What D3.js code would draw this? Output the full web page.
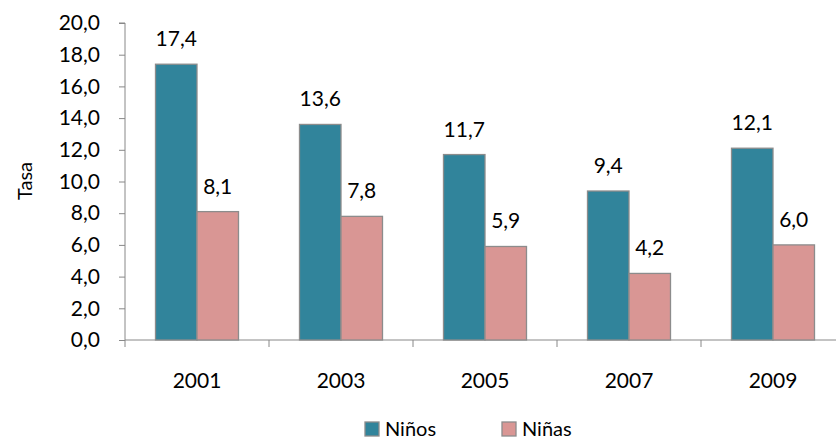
<!DOCTYPE html>
<html>
<head>
<meta charset="utf-8">
<script src="https://cdn.jsdelivr.net/npm/d3@7"></script>
<style>
  body { margin: 0; background: #fff; }
  text { font-family: Lato, "Open Sans", sans-serif; fill: #000; }
</style>
</head>
<body>
<svg id="chart" width="836" height="439"></svg>
<script>
// data
var years = ['2001', '2003', '2005', '2007', '2009'];
var ninos = [17.4, 13.6, 11.7, 9.4, 12.1];
var ninas = [8.1, 7.8, 5.9, 4.2, 6.0];
var seriesNames = ['Niños', 'Niñas'];
var seriesColors = ['#31849B', '#D99694'];
var yTicks = [0, 2, 4, 6, 8, 10, 12, 14, 16, 18, 20];

var svg = d3.select('#chart');

// plot area (plotTop, since "top" is taken by window.top)
var plotLeft = 125, plotTop = 23, plotBottom = 340, band = 144;
var fontSize = '21px';

var x = d3.scaleBand()
  .domain(years)
  .range([plotLeft, plotLeft + band * years.length]);

var y = d3.scaleLinear()
  .domain([0, 20])
  .range([plotBottom, plotTop]);

var fmt = function(v) { return d3.format('.1f')(v).replace('.', ','); };

// y axis
var yAxis = svg.append('g')
  .attr('transform', 'translate(' + plotLeft + ',0)')
  .call(d3.axisLeft(y).tickValues(yTicks).tickSize(6).tickPadding(19).tickFormat(fmt));
yAxis.select('.domain').attr('stroke', '#888').attr('d', 'M-6,' + plotTop + 'H0V' + plotBottom);
yAxis.selectAll('line').attr('stroke', '#888');
yAxis.selectAll('text').style('font-size', fontSize).attr('fill', '#000');

// x axis
var xAxis = svg.append('g')
  .attr('transform', 'translate(0,' + plotBottom + ')')
  .call(d3.axisBottom(x).tickSize(0).tickPadding(33));
xAxis.select('.domain').attr('stroke', '#888').attr('d', 'M' + plotLeft + ',0H' + (plotLeft + band * years.length));
xAxis.selectAll('text').style('font-size', fontSize).attr('fill', '#000');
// tick marks between categories
xAxis.selectAll('line.sep')
  .data(d3.range(years.length + 1))
  .enter().append('line')
  .attr('class', 'sep')
  .attr('x1', function(i) { return plotLeft + i * band; })
  .attr('x2', function(i) { return plotLeft + i * band; })
  .attr('y1', 0).attr('y2', 7)
  .attr('stroke', '#888');

// bars
var barW = 41.5;
var groupOffset = (band - 2 * barW) / 2;
var series = [ninos, ninas];

series.forEach(function(vals, s) {
  var g = svg.append('g');
  g.selectAll('rect')
    .data(vals)
    .enter().append('rect')
    .attr('x', function(d, i) { return x(years[i]) + groupOffset + s * barW; })
    .attr('y', function(d) { return y(d); })
    .attr('width', barW)
    .attr('height', function(d) { return plotBottom - y(d); })
    .attr('fill', seriesColors[s])
    .attr('stroke', '#8c8c8c')
    .attr('stroke-width', 1.3);

  // value labels
  g.selectAll('text')
    .data(vals)
    .enter().append('text')
    .attr('x', function(d, i) { return x(years[i]) + groupOffset + s * barW + barW / 2; })
    .attr('y', function(d) { return y(d) - 18; })
    .attr('text-anchor', 'middle')
    .style('font-size', fontSize)
    .text(fmt);
});

// y axis title
svg.append('text')
  .attr('transform', 'translate(32,181) rotate(-90)')
  .attr('text-anchor', 'middle')
  .style('font-size', '20px')
  .text('Tasa');

// legend
var legendX = [365, 502];
var legend = svg.append('g');
seriesNames.forEach(function(name, i) {
  legend.append('rect')
    .attr('x', legendX[i]).attr('y', 422)
    .attr('width', 14).attr('height', 14)
    .attr('fill', seriesColors[i])
    .attr('stroke', '#8c8c8c')
    .attr('stroke-width', 1.3);
  legend.append('text')
    .attr('x', legendX[i] + 20).attr('y', 436)
    .style('font-size', '20px')
    .text(name);
});
</script>
</body>
</html>
